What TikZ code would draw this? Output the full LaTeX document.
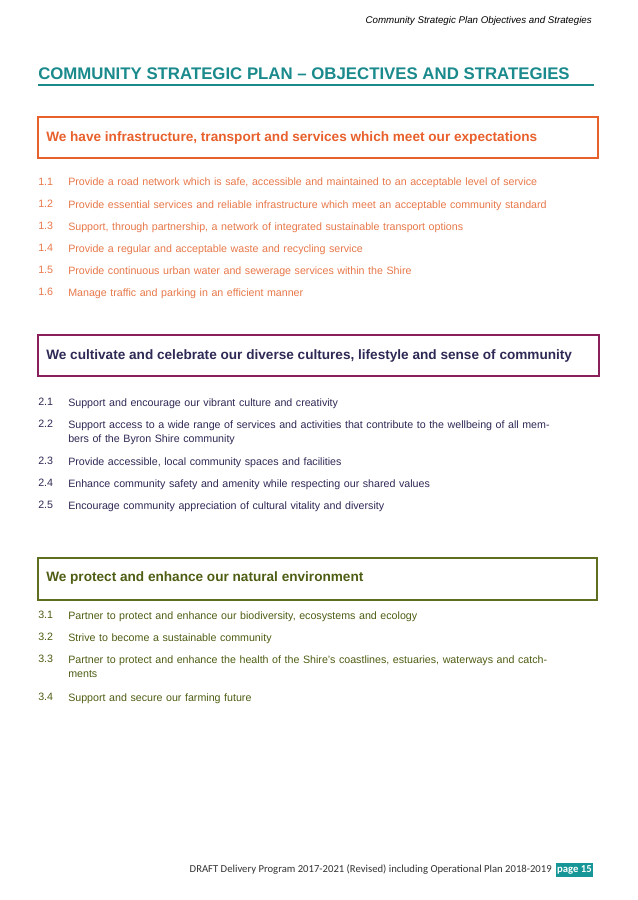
\documentclass[tikz,border=0pt]{standalone}
\usepackage{fontspec}
\setmainfont{Liberation Sans}
\newfontfamily\foot{Carlito}
\definecolor{teal1}{HTML}{1A8A8C}
\definecolor{or1}{HTML}{E8602C}
\definecolor{or2}{HTML}{E8784A}
\definecolor{pu1}{HTML}{8A1F5C}
\definecolor{pu2}{HTML}{2E2A55}
\definecolor{gr1}{HTML}{5E7020}
\definecolor{gr2}{HTML}{4E5E14}
\begin{document}
\begin{tikzpicture}[x=0.75pt,y=-0.75pt,
  item/.style={anchor=north west,inner sep=0pt,font=\fontsize{8}{10.5}\selectfont,text width=480pt,align=left},
  num/.style={anchor=north west,inner sep=0pt,font=\fontsize{8}{10.5}\selectfont},
  hdr/.style={anchor=west,inner sep=0pt,font=\fontsize{10.2}{12}\selectfont\bfseries}]
\useasboundingbox (0,0) rectangle (638,900);
\fill[white] (0,0) rectangle (638,900);
\node[anchor=base east,inner sep=0pt,font=\fontsize{7.3}{9}\selectfont\itshape] (hd) at (592,23) {Community Strategic Plan Objectives and Strategies};
\node[anchor=base west,inner sep=0pt,font=\fontsize{12.6}{14}\selectfont\bfseries,text=teal1] (title) at (38,79) {COMMUNITY STRATEGIC PLAN – OBJECTIVES AND STRATEGIES};
\draw[teal1,line width=1pt] (38,85) -- (594,85);
% box 1
\draw[or1,line width=1.2pt] (38,117) rectangle (598,158);
\node[hdr,text=or1] (h1) at (46,138) {We have infrastructure, transport and services which meet our expectations};
\foreach \n/\y/\t in {1.1/178/{Provide a road network which is safe, accessible and maintained to an acceptable level of service},
1.2/200/{Provide essential services and reliable infrastructure which meet an acceptable community standard},
1.3/222/{Support, through partnership, a network of integrated sustainable transport options},
1.4/244/{Provide a regular and acceptable waste and recycling service},
1.5/266/{Provide continuous urban water and sewerage services within the Shire},
1.6/288/{Manage traffic and parking in an efficient manner}}{
\node[num,text=or2] (n\n) at (38,\y) {\n};
\node[item,text=or2] (t\n) at (68,\y) {\t};}
% box 2
\draw[pu1,line width=1.2pt] (38,335) rectangle (599,376);
\node[hdr,text=pu2] (h2) at (46,356) {We cultivate and celebrate our diverse cultures, lifestyle and sense of community};
\foreach \n/\y/\t in {2.1/398/{Support and encourage our vibrant culture and creativity},
2.2/420/{Support access to a wide range of services and activities that contribute to the wellbeing of all members of the Byron Shire community},
2.3/457/{Provide accessible, local community spaces and facilities},
2.4/479/{Enhance community safety and amenity while respecting our shared values},
2.5/501/{Encourage community appreciation of cultural vitality and diversity}}{
\node[num,text=pu2] (n\n) at (38,\y) {\n};
\node[item,text=pu2,text width=370pt] (t\n) at (68,\y) {\t};}
% box 3
\draw[gr1,line width=1.2pt] (38,558) rectangle (597,600);
\node[hdr,text=gr2] (h3) at (46,578) {We protect and enhance our natural environment};
\foreach \n/\y/\t in {3.1/611/{Partner to protect and enhance our biodiversity, ecosystems and ecology},
3.2/633/{Strive to become a sustainable community},
3.3/655/{Partner to protect and enhance the health of the Shire’s coastlines, estuaries, waterways and catchments},
3.4/693/{Support and secure our farming future}}{
\node[num,text=gr2] (n\n) at (38,\y) {\n};
\node[item,text=gr2,text width=370pt] (t\n) at (68,\y) {\t};}
% footer
\fill[teal1!90!cyan] (556,863) rectangle (593,877);
\node[anchor=center,inner sep=0pt,font=\foot\fontsize{8}{9}\selectfont\bfseries,text=white] (pg) at (574.5,870) {page 15};
\node[anchor=east,inner sep=0pt,font=\foot\fontsize{8}{9}\selectfont,text=black!80] (ft) at (552,870) {DRAFT Delivery Program 2017-2021 (Revised) including Operational Plan 2018-2019};
\end{tikzpicture}
\end{document}
